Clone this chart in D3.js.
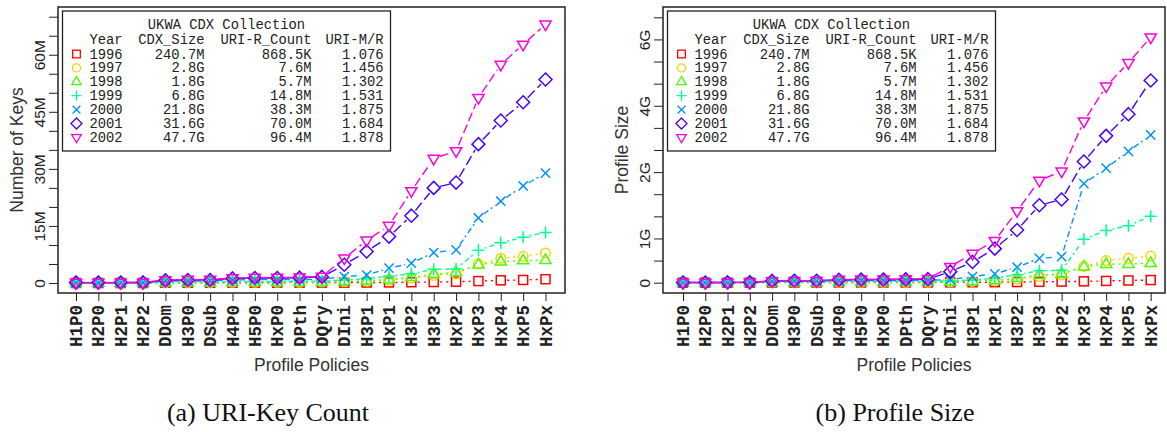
<!DOCTYPE html>
<html>
<head>
<meta charset="utf-8">
<script src="https://cdn.jsdelivr.net/npm/d3@7"></script>
<style>
  html, body { margin: 0; padding: 0; background: #fff; }
  svg { display: block; }
</style>
</head>
<body>
<svg id="chart" width="1167" height="432"></svg>
<script>
// ---------------- data ----------------
const categories = ["H1P0","H2P0","H2P1","H2P2","DDom","H3P0","DSub","H4P0","H5P0","HxP0","DPth","DQry",
                    "DIni","H3P1","HxP1","H3P2","H3P3","HxP2","HxP3","HxP4","HxP5","HxPx"];
const years = ["1996","1997","1998","1999","2000","2001","2002"];
const cdxSize = ["240.7M","2.8G","1.8G","6.8G","21.8G","31.6G","47.7G"];
const uriRCount = ["868.5K","7.6M","5.7M","14.8M","38.3M","70.0M","96.4M"];
const uriMR = ["1.076","1.456","1.302","1.531","1.875","1.684","1.878"];
const colors = ["#FF0000","#FFD000","#49FF00","#00FF92","#0092FF","#4900FF","#FF00DB"];

// (a) URI-Key Count, in millions
const keys1996 = [0,0,0,0,0.05,0.05,0.05,0.08,0.08,0.08,0.09,0.1, 0.1,0.12,0.15,0.2,0.25,0.35,0.5,0.7,0.8,1.0];
const keys1997 = [0.01,0.01,0.01,0.02,0.1,0.1,0.1,0.2,0.2,0.2,0.2,0.3, 0.4,0.5,0.8,1.3,2.0,2.4,5.0,6.5,7.0,7.9];
const keys1998 = [0.01,0.01,0.01,0.02,0.1,0.1,0.1,0.2,0.2,0.2,0.2,0.2, 0.4,0.6,0.9,1.5,2.3,2.8,4.8,5.6,5.9,6.0];
const keys1999 = [0.02,0.02,0.03,0.05,0.3,0.3,0.3,0.4,0.4,0.4,0.5,0.5, 0.8,1.1,1.8,2.4,3.6,3.7,8.6,10.6,12.0,13.3];
const keys2000 = [0.05,0.05,0.05,0.1,0.5,0.5,0.6,0.8,0.9,0.9,0.9,1.0, 1.7,2.1,3.9,5.2,8.0,8.7,17.1,21.5,25.5,28.9];
const keys2001 = [0.1,0.1,0.1,0.15,0.7,0.8,0.8,1.2,1.3,1.3,1.4,1.6, 4.8,8.3,12.2,17.7,25.0,26.4,36.5,42.7,47.5,53.5];
const keys2002 = [0.1,0.1,0.1,0.15,0.8,0.9,0.9,1.3,1.4,1.4,1.5,1.7, 6.5,11.2,15.1,24.2,32.7,34.7,48.7,57.4,62.7,68.0];

// (b) Profile Size, in axis units of the original plot
const size1996 = [0,0,0,0,0.003,0.003,0.003,0.005,0.005,0.005,0.006,0.006, 0.008,0.01,0.012,0.015,0.02,0.025,0.03,0.04,0.05,0.06];
const size1997 = [0.001,0.001,0.001,0.002,0.008,0.008,0.008,0.012,0.012,0.012,0.013,0.015, 0.02,0.03,0.04,0.08,0.14,0.18,0.37,0.5,0.55,0.6];
const size1998 = [0.001,0.001,0.001,0.002,0.008,0.008,0.008,0.012,0.012,0.012,0.013,0.015, 0.02,0.03,0.05,0.1,0.17,0.2,0.36,0.42,0.42,0.44];
const size1999 = [0.002,0.002,0.003,0.004,0.02,0.02,0.02,0.03,0.03,0.03,0.03,0.035, 0.04,0.06,0.1,0.18,0.27,0.28,0.98,1.18,1.29,1.5];
const size2000 = [0.003,0.003,0.004,0.006,0.03,0.03,0.035,0.045,0.05,0.05,0.05,0.055, 0.07,0.14,0.2,0.35,0.55,0.59,2.24,2.59,2.97,3.34];
const size2001 = [0.005,0.005,0.006,0.008,0.04,0.045,0.045,0.065,0.07,0.07,0.075,0.08, 0.25,0.47,0.77,1.19,1.75,1.88,2.74,3.32,3.81,4.57];
const size2002 = [0.005,0.005,0.006,0.008,0.04,0.045,0.045,0.07,0.075,0.075,0.08,0.09, 0.36,0.66,0.95,1.62,2.31,2.52,3.65,4.44,4.97,5.55];

const keysTickValues = [0,5,10,15,20,25,30,35,40,45,50,55,60,65,70];
const keysLabelValues = [0,15,30,45,60];
const keysLabels = ["0","15M","30M","45M","60M"];
const sizeTickValues = [0,0.5,1,1.5,2,2.5,3,3.5,4,4.5,5,5.5,6];
const sizeLabelValues = [0,1,2.5,4,5.5];
const sizeLabels = ["0","1G","2G","4G","6G"];

const keysSeries = [keys1996,keys1997,keys1998,keys1999,keys2000,keys2001,keys2002];
const sizeSeries = [size1996,size1997,size1998,size1999,size2000,size2001,size2002];

// ---------------- styles ----------------
const dashes = ["2,4","2,4","2,4","2,3,5,3","6,3,2,3","10,4","9,4"];
const svg = d3.select("#chart");
svg.append("rect").attr("width",1167).attr("height",432).attr("fill","#fff");

function drawMarker(g, type, color) {
  const s = {fill:"none", stroke:color, "stroke-width":1.5};
  let el;
  if (type === 0) el = g.append("rect").attr("x",-4.5).attr("y",-4.5).attr("width",9).attr("height",9);
  else if (type === 1) el = g.append("circle").attr("r",4.8);
  else if (type === 2) el = g.append("path").attr("d","M0,-6.3L5.6,3.3L-5.6,3.3Z");
  else if (type === 3) el = g.append("path").attr("d","M-6,0H6M0,-6V6");
  else if (type === 4) el = g.append("path").attr("d","M-4.6,-4.6L4.6,4.6M-4.6,4.6L4.6,-4.6");
  else if (type === 5) el = g.append("path").attr("d","M0,-6.5L6.5,0L0,6.5L-6.5,0Z");
  else el = g.append("path").attr("d","M0,6.3L5.6,-3.3L-5.6,-3.3Z");
  for (const k in s) el.attr(k, s[k]);
}

function panel(cfg) {
  const {left, right, top, bottom, xFirst, xLast, yDomain, yRange, series,
         tickValues, labelValues, labels, yTitle, caption, captionX} = cfg;
  const x = d3.scalePoint().domain(categories).range([xFirst, xLast]);
  const y = d3.scaleLinear().domain(yDomain).range(yRange);
  const g = svg.append("g");

  // y ticks
  const yt = g.append("g").attr("transform",`translate(${left},0)`)
    .call(d3.axisLeft(y).tickValues(tickValues).tickSize(9).tickFormat(""));
  yt.select(".domain").remove();
  yt.selectAll("line").attr("stroke","#222");
  const yl = g.append("g").attr("transform",`translate(${left},0)`)
    .call(d3.axisLeft(y).tickValues(labelValues).tickSize(0).tickFormat((d,i)=>labels[i]));
  yl.select(".domain").remove();
  yl.selectAll("text").attr("x",0).attr("dy",0).attr("text-anchor","middle")
    .attr("transform","translate(-13,0) rotate(-90)")
    .attr("font-family","Liberation Sans, Arial, sans-serif").attr("font-size",15.5).attr("fill","#222");

  // x ticks
  const xa = g.append("g").attr("transform",`translate(0,${bottom})`)
    .call(d3.axisBottom(x).tickSize(8));
  xa.select(".domain").remove();
  xa.selectAll("line").attr("stroke","#222");
  xa.selectAll("text").attr("transform","rotate(-90)").attr("text-anchor","end")
    .attr("x",-12).attr("y",5.5).attr("dy",0)
    .attr("font-family","Liberation Mono, Courier New, monospace").attr("font-weight","bold")
    .attr("font-size",17.5).attr("fill","#222");

  // titles
  g.append("text").attr("x",(left+right)/2).attr("y",371).attr("text-anchor","middle")
    .attr("font-family","Liberation Sans, Arial, sans-serif").attr("font-size",17.5).attr("fill","#333")
    .text("Profile Policies");
  g.append("text").attr("transform",`translate(${left-35},${(top+bottom)/2}) rotate(-90)`)
    .attr("text-anchor","middle")
    .attr("font-family","Liberation Sans, Arial, sans-serif").attr("font-size",17.5).attr("fill","#333")
    .text(yTitle);
  g.append("text").attr("x",captionX).attr("y",421).attr("text-anchor","middle")
    .attr("font-family","Liberation Serif, Times New Roman, serif").attr("font-size",26).attr("fill","#111")
    .text(caption);

  // series
  const gap = 6.5;
  series.forEach((vals, si) => {
    const pts = vals.map((v,i)=>[x(categories[i]), y(v)]);
    const sg = g.append("g");
    for (let i=0;i<pts.length-1;i++){
      const [x0,y0]=pts[i],[x1,y1]=pts[i+1];
      const dx=x1-x0, dy=y1-y0, L=Math.hypot(dx,dy);
      if (L <= 2*gap) continue;
      const ux=dx/L, uy=dy/L;
      sg.append("line").attr("x1",x0+ux*gap).attr("y1",y0+uy*gap)
        .attr("x2",x1-ux*gap).attr("y2",y1-uy*gap)
        .attr("stroke",colors[si]).attr("stroke-width",1.4).attr("stroke-dasharray",dashes[si]);
    }
    pts.forEach(p=>{
      const mg = sg.append("g").attr("transform",`translate(${p[0]},${p[1]})`);
      drawMarker(mg, si, colors[si]);
    });
  });

  // box
  g.append("rect").attr("x",left).attr("y",top).attr("width",right-left).attr("height",bottom-top)
    .attr("fill","none").attr("stroke","#222").attr("stroke-width",1.5);

  // legend
  const L0 = left+4.5, T0 = top+4, W = 328, H = 140;
  const lg = g.append("g").attr("transform",`translate(${L0},${T0})`);
  lg.append("rect").attr("width",W).attr("height",H).attr("fill","#fff").attr("stroke","#222").attr("stroke-width",1.3);
  const mono = {"font-family":"Liberation Mono, Courier New, monospace","font-size":13.8,"fill":"#222"};
  const t = (xx,yy,anchor,str)=>{ const e=lg.append("text").attr("x",xx).attr("y",yy).attr("text-anchor",anchor).text(str);
    for(const k in mono) e.attr(k,mono[k]); return e; };
  t(W/2, 17.5, "middle", "UKWA CDX Collection");
  t(27, 33, "start", "Year");
  t(142, 33, "end", "CDX_Size");
  t(249, 33, "end", "URI-R_Count");
  t(321, 33, "end", "URI-M/R");
  years.forEach((yr,i)=>{
    const yy = 47.5 + i*13.9;
    const mg = lg.append("g").attr("transform",`translate(14,${yy-4.5}) scale(0.85)`);
    drawMarker(mg, i, colors[i]);
    t(27, yy, "start", yr);
    t(142, yy, "end", cdxSize[i]);
    t(249, yy, "end", uriRCount[i]);
    t(321, yy, "end", uriMR[i]);
  });
}

panel({left:58, right:565, top:7, bottom:293, xFirst:76, xLast:545.5,
       yDomain:[0,70], yRange:[283,16.7], series:keysSeries,
       tickValues:keysTickValues, labelValues:keysLabelValues, labels:keysLabels,
       yTitle:"Number of Keys", caption:"(a) URI-Key Count", captionX:268});
panel({left:663, right:1165, top:7, bottom:293, xFirst:683, xLast:1150.7,
       yDomain:[0,6], yRange:[282.7,17.3], series:sizeSeries,
       tickValues:sizeTickValues, labelValues:sizeLabelValues, labels:sizeLabels,
       yTitle:"Profile Size", caption:"(b) Profile Size", captionX:895});
</script>
</body>
</html>
